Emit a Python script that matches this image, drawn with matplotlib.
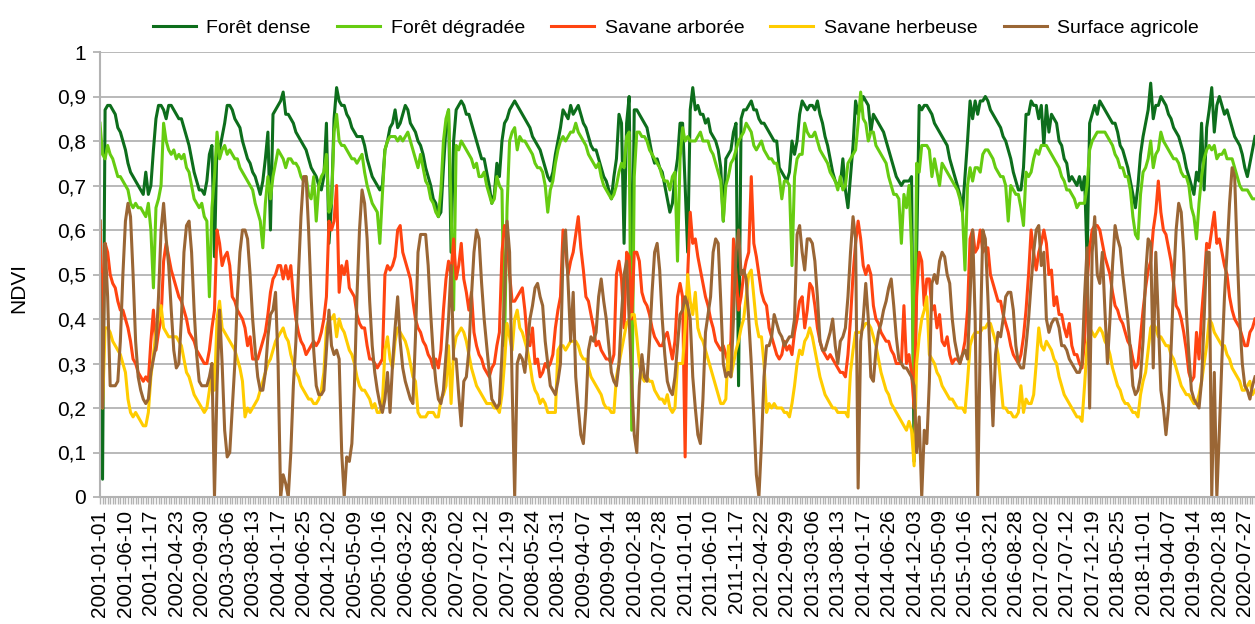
import matplotlib
matplotlib.use('Agg')
import matplotlib.pyplot as plt
import numpy as np
import datetime as dt

plt.rcParams['font.family'] = ['Liberation Sans', 'DejaVu Sans']

# NDVI x 100, 16-day composites, one row per year (23 per year)
foret_dense = [
    62,4,87,88,88,87,86,83,82,80,78,75,73,72,71,70,69,68,73,68,70,78,85,
    88,88,87,85,88,88,87,86,85,85,83,81,79,76,73,71,69,69,68,71,77,79,54,
    80,78,81,84,88,88,87,85,84,83,80,78,76,75,73,72,70,68,71,76,82,60,86,
    87,88,89,91,86,86,85,84,82,81,80,79,78,76,74,73,72,70,69,72,84,57,66,
    85,92,89,88,88,86,85,83,82,81,81,81,79,76,74,72,71,70,69,70,78,80,83,
    84,87,83,84,86,88,87,84,83,82,80,79,77,74,72,70,67,66,63,64,74,83,87,
    55,80,87,88,89,88,86,86,84,82,80,78,76,76,73,70,66,68,75,72,80,84,85,
    87,88,89,88,87,86,85,84,83,81,80,79,78,76,74,72,71,73,77,80,83,87,86,
    85,88,86,87,88,86,84,83,81,79,78,78,76,74,72,71,69,67,72,76,86,84,57,
    84,90,42,87,87,86,85,84,83,80,77,75,76,74,73,70,67,64,66,72,76,84,84,
    70,55,87,92,87,88,86,86,84,85,82,81,80,78,74,62,76,77,78,82,84,25,85,
    87,87,88,89,87,87,85,84,84,83,82,81,80,80,74,73,72,71,73,80,77,80,86,
    89,88,87,88,88,87,89,86,84,81,79,76,73,71,70,70,76,69,65,72,79,89,86,
    88,90,89,88,82,86,85,84,83,82,80,78,76,74,72,71,70,71,71,71,72,8,55,
    88,87,88,88,87,86,84,83,82,81,80,79,76,74,72,70,68,64,72,80,89,85,89,
    86,89,89,90,89,87,86,85,84,83,81,80,78,76,73,71,69,69,74,86,86,89,88,
    88,85,88,79,88,82,86,85,84,80,79,76,75,71,72,71,70,72,69,72,53,84,86,
    88,86,89,88,87,86,85,84,84,82,79,78,76,74,71,68,65,70,77,81,84,87,93,
    85,88,88,90,89,88,86,85,83,82,81,79,77,74,72,70,68,73,71,84,69,83,87,
    92,82,88,90,88,86,87,85,83,81,80,79,77,74,72,75,78,81,
]

foret_degradee = [
    84,77,76,79,77,76,74,72,72,71,70,69,66,65,66,65,65,64,63,66,60,47,65,
    67,70,84,80,78,77,78,76,77,76,77,74,73,70,67,66,65,66,63,62,45,65,72,
    82,76,78,79,77,78,77,76,76,74,73,72,71,70,69,66,64,62,56,66,72,67,72,
    75,78,77,76,74,76,76,75,75,74,72,71,72,68,67,72,62,70,72,73,77,64,66,
    82,86,80,79,79,78,77,76,76,75,76,77,73,70,68,66,65,64,57,68,78,80,81,
    81,81,80,81,80,81,82,80,78,76,74,77,74,71,70,67,66,64,63,69,80,85,87,
    65,42,79,78,80,79,78,77,76,74,75,72,72,73,70,68,66,67,72,70,69,34,65,
    80,82,83,78,81,80,80,79,78,77,75,74,74,73,70,64,69,71,75,78,80,81,80,
    81,82,82,84,82,81,80,79,77,76,75,74,75,72,70,69,68,67,68,70,73,75,74,
    81,82,15,72,82,82,81,81,80,78,77,76,75,74,72,71,71,69,72,73,53,76,83,
    80,81,80,80,80,81,82,80,80,80,78,77,75,73,71,62,70,72,75,76,78,80,81,
    82,84,83,82,79,78,79,80,78,77,76,76,75,75,72,67,71,71,70,52,72,76,77,
    77,84,82,81,81,82,80,78,77,76,75,73,72,71,69,72,69,70,75,76,77,78,84,
    91,85,84,80,82,82,79,78,77,76,75,72,70,68,68,67,57,68,65,70,56,20,75,
    73,79,79,79,78,72,76,73,70,75,74,73,72,71,70,69,67,64,51,70,74,71,74,
    74,73,77,78,78,77,76,74,73,72,72,70,62,70,69,68,68,65,61,73,72,73,76,
    78,77,79,79,79,78,77,76,75,74,72,71,69,69,68,67,65,66,66,66,70,78,80,
    81,82,82,82,82,81,80,79,77,76,74,74,72,72,69,63,59,58,68,73,74,76,80,
    74,77,78,82,80,79,78,77,76,76,75,73,72,72,70,65,63,58,66,72,76,78,79,
    78,79,76,77,77,78,76,76,76,74,72,70,69,69,69,68,67,67,
]

savane_arboree = [
    62,38,57,55,50,48,47,44,42,42,40,38,35,31,30,28,27,26,27,26,35,42,33,
    37,40,53,57,54,51,49,47,45,44,42,40,37,36,35,33,32,31,30,30,33,38,42,
    60,57,52,54,55,52,45,44,42,41,40,38,34,36,31,31,31,33,35,37,41,46,49,
    50,52,52,49,52,49,52,45,40,37,35,34,32,33,34,35,34,35,37,40,45,62,60,
    62,70,46,52,50,53,47,46,45,41,39,38,38,34,31,31,30,29,30,31,50,52,51,
    52,54,60,61,55,53,51,49,44,40,38,37,35,34,32,31,29,31,29,33,42,49,53,
    50,58,49,52,57,49,46,42,46,37,34,32,31,29,28,27,29,30,34,37,55,61,58,
    50,44,44,45,46,47,42,35,34,38,30,31,27,28,30,29,30,32,38,42,45,60,55,
    50,53,55,59,63,56,51,45,44,41,38,34,35,33,32,31,31,30,32,50,53,49,38,
    55,54,40,55,55,53,46,44,43,41,38,36,35,34,34,36,37,34,31,35,45,48,45,
    9,50,64,57,58,54,51,48,45,43,40,38,35,34,33,34,32,30,35,58,50,42,45,
    50,53,55,72,57,54,50,46,44,43,38,36,34,32,31,32,35,33,34,32,37,40,44,
    45,38,42,48,47,43,38,35,33,32,31,32,31,30,29,28,28,27,32,40,50,57,62,
    58,52,50,52,50,43,40,39,37,36,35,35,33,32,30,30,30,43,30,32,28,20,45,
    55,53,43,49,49,42,43,38,41,35,34,36,32,30,31,31,30,32,35,42,58,60,55,
    56,60,55,56,56,50,48,46,44,44,41,39,37,34,32,31,30,32,36,42,50,60,55,
    51,55,57,60,57,50,51,43,45,41,41,38,36,39,34,32,32,30,29,35,48,56,60,
    61,61,60,57,54,52,50,46,43,42,40,39,37,35,34,31,29,30,36,42,47,51,53,
    60,64,71,64,60,59,56,53,48,43,42,40,37,33,28,26,27,37,31,41,48,57,56,
    60,64,57,58,55,52,50,45,42,40,39,38,36,34,34,37,38,40,
]

savane_herbeuse = [
    39,20,38,38,37,35,34,33,32,30,28,22,19,18,19,18,17,16,16,19,27,32,37,
    40,43,38,37,36,36,36,36,35,34,31,28,27,25,23,22,21,20,19,20,24,30,24,
    40,44,38,37,36,35,34,33,31,29,26,18,20,19,20,21,22,24,26,28,30,31,33,
    35,36,37,38,36,35,32,30,28,27,25,24,23,22,22,21,21,22,24,28,38,40,40,
    41,36,40,38,37,35,33,32,30,27,25,24,24,23,22,20,21,19,19,21,33,36,31,
    29,35,38,37,36,35,33,30,27,26,19,18,18,18,19,19,19,18,18,22,23,25,34,
    21,33,36,37,38,37,35,32,29,27,25,24,23,22,21,21,21,20,20,19,23,30,39,
    36,33,40,42,38,37,35,33,30,26,24,23,21,22,21,19,19,19,19,33,34,34,33,
    34,35,35,35,34,32,31,31,29,27,26,25,24,23,21,20,20,19,19,27,30,33,36,
    39,40,41,41,36,30,27,26,27,26,26,24,23,22,22,21,23,20,19,20,30,30,30,
    38,50,44,41,46,38,36,35,33,31,29,27,25,23,21,21,22,34,27,30,33,35,38,
    40,45,50,51,45,39,36,36,30,19,21,20,21,20,20,20,19,19,18,21,25,30,33,
    32,35,36,38,36,33,30,27,25,23,22,21,20,20,19,19,19,19,18,28,33,37,37,
    37,38,39,39,38,36,34,31,28,26,24,23,21,20,19,18,17,16,15,17,15,7,30,
    36,40,42,45,32,31,30,28,27,25,24,23,22,22,21,20,20,20,19,26,34,36,37,
    37,37,38,38,39,39,37,35,32,26,20,20,19,19,18,18,19,25,19,22,21,21,23,
    30,38,34,33,35,34,33,31,30,27,25,23,22,21,20,19,18,18,17,25,34,38,37,
    36,37,38,37,35,34,32,29,27,25,24,22,21,21,20,19,19,18,23,26,28,33,38,
    39,38,36,36,35,34,34,32,31,29,27,25,24,23,23,22,21,21,23,26,30,34,40,
    39,37,36,35,34,34,32,31,29,28,27,26,24,24,25,26,23,24,
]

surface_agricole = [
    50,20,57,45,25,25,25,26,35,50,62,66,63,50,35,27,24,22,21,22,28,31,34,
    45,60,66,58,52,42,33,29,30,40,55,61,62,55,42,32,26,25,25,25,27,30,0,
    25,42,30,15,9,10,20,30,45,55,60,60,58,50,40,33,27,24,24,28,36,41,42,
    46,30,0,5,3,0,10,25,35,50,63,72,72,60,45,33,25,23,23,24,33,42,34,
    32,33,31,10,0,9,8,12,25,45,60,69,66,58,44,34,28,24,21,19,22,28,19,
    30,38,45,35,29,26,24,22,21,36,55,59,59,59,52,41,32,26,22,21,24,32,40,
    52,31,31,23,16,26,27,33,45,55,60,58,48,40,34,28,22,21,20,21,32,45,62,
    55,25,0,30,32,31,28,34,40,43,47,48,45,43,35,30,25,24,23,26,30,55,60,
    48,35,46,27,20,14,12,20,33,36,35,37,45,49,44,40,34,28,26,25,30,41,50,
    53,40,26,14,10,25,32,27,26,35,46,55,57,51,40,32,26,24,23,27,34,41,42,
    45,43,40,27,20,14,12,22,37,41,45,55,58,57,44,30,27,28,27,40,55,60,50,
    51,49,40,30,18,5,0,12,27,34,34,36,41,39,37,36,34,35,36,36,40,59,61,
    55,51,58,58,57,53,45,35,33,33,35,37,40,34,30,35,36,38,45,55,63,58,2,
    35,40,48,40,27,26,33,37,39,42,44,47,49,43,36,31,30,29,29,28,27,25,10,
    18,0,15,12,26,48,50,48,53,55,54,50,48,40,35,32,30,32,33,31,45,60,40,
    0,35,60,58,45,30,16,32,37,36,40,45,46,46,42,34,30,29,29,34,40,48,55,
    60,61,52,55,40,37,39,40,40,38,34,34,33,31,30,29,28,28,30,45,56,20,55,
    63,50,48,55,42,30,40,52,61,58,56,50,45,40,33,25,23,24,27,35,50,58,57,
    29,55,40,24,20,14,20,33,48,60,66,64,55,42,32,24,22,21,20,26,40,55,55,
    0,28,0,15,31,45,55,66,74,72,55,40,30,25,24,22,25,27,
]

series_names = ['Forêt dense', 'Forêt dégradée', 'Savane arborée',
                'Savane herbeuse', 'Surface agricole']
series_data = [foret_dense, foret_degradee, savane_arboree,
               savane_herbeuse, surface_agricole]
series_colors = ['#0d6e1c', '#66cc11', '#ff4411', '#ffcc00', '#9a6635']

n = len(foret_dense)
for s in series_data:
    assert len(s) == n, [len(t) for t in series_data]

# category labels: MODIS 16-day composite dates
dates = []
for year in range(2001, 2021):
    for k in range(23):
        dates.append(dt.date(year, 1, 1) + dt.timedelta(days=16 * k))
dates = dates[:n]
xlabels = [d.isoformat() if i % 10 == 0 else '' for i, d in enumerate(dates)]

fig = plt.figure(figsize=(12.55, 6.24), dpi=100)
ax = fig.add_axes([100 / 1255, 1 - 497 / 624, 1 - 100 / 1255, (497 - 52) / 624])

x = np.arange(n)
handles = []
for name, vals, col in zip(series_names, series_data, series_colors):
    h, = ax.plot(x, np.array(vals) / 100.0, color=col, lw=2.2, label=name,
                 solid_joinstyle='round')
    handles.append(h)

ax.set_xlim(0, 453.1)
ax.set_ylim(0, 1)

grid_col = '#b3b3b3'
yt = np.round(np.arange(0, 1.01, 0.1), 1)
ax.set_yticks(yt)
ax.set_yticklabels([('%g' % v).replace('.', ',') for v in yt], fontsize=15)
ax.yaxis.grid(True, color=grid_col, lw=1.3)
ax.set_axisbelow(True)

ax.set_xticks(x)
ax.set_xticklabels(xlabels, rotation=90, fontsize=15)
ax.tick_params(axis='x', length=5, width=1, color=grid_col, pad=4)
ax.tick_params(axis='y', length=5, width=1.3, color=grid_col, pad=5)

for side in ['top', 'right']:
    ax.spines[side].set_visible(False)
for side in ['left', 'bottom']:
    ax.spines[side].set_color(grid_col)
    ax.spines[side].set_linewidth(1.5)

ax.set_ylabel('NDVI', fontsize=15)
ax.yaxis.set_label_coords(-0.062, 0.47)

fig.legend(handles=handles, loc='center', bbox_to_anchor=(676 / 1255, 1 - 28 / 624),
           ncol=5, frameon=False, fontsize=14, handlelength=2.2,
           handletextpad=0.55, columnspacing=1.35)

fig.savefig('out.png', dpi=100)
